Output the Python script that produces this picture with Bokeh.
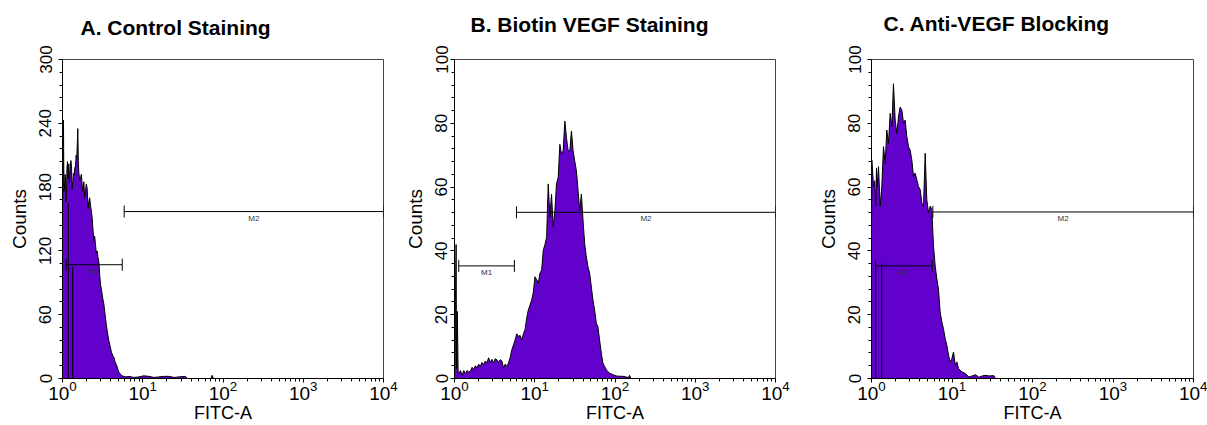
import math
from bokeh.plotting import figure
from bokeh.layouts import row
from bokeh.models import (ColumnDataSource, FixedTicker, SingleIntervalTicker,
                          LogTickFormatter, Title)
from bokeh.embed import file_html
from bokeh.resources import INLINE
from bokeh.core.properties import value

# ---------------- data ----------------
titles = ["A. Control Staining", "B. Biotin VEGF Staining", "C. Anti-VEGF Blocking"]
y_max = [300, 100, 100]
y_step = [60, 20, 20]
x_ticks = [1, 10, 100, 1000, 10000]
x_label = "FITC-A"
y_label = "Counts"

# log10(FITC-A) channel positions and counts
a_log = [0.000, 0.008, 0.012, 0.018, 0.025, 0.031, 0.037, 0.044, 0.050, 0.056, 0.062, 0.070,
         0.079, 0.087, 0.095, 0.104, 0.112, 0.120, 0.129, 0.137, 0.145, 0.153, 0.162, 0.170,
         0.178, 0.185, 0.191, 0.197, 0.203, 0.214, 0.224, 0.235, 0.245, 0.255, 0.266, 0.276,
         0.287, 0.297, 0.307, 0.318, 0.328, 0.338, 0.349, 0.360, 0.370, 0.380, 0.390, 0.400,
         0.411, 0.421, 0.432, 0.442, 0.453, 0.463, 0.474, 0.484, 0.494, 0.505, 0.515, 0.526,
         0.536, 0.547, 0.557, 0.567, 0.577, 0.588, 0.598, 0.609, 0.619, 0.630, 0.640, 0.650,
         0.660, 0.671, 0.681, 0.692, 0.702, 0.723, 0.743, 0.790, 0.827, 0.890, 0.951, 1.010,
         1.076, 1.140, 1.200, 1.260, 1.325, 1.390, 1.450, 1.533, 1.553, 1.850, 1.865, 1.880]
a_counts = [165, 185, 243, 176, 179, 192, 190, 166, 172, 198, 204, 188,
            202, 184, 196, 205, 200, 178, 185, 193, 191, 198, 200, 210,
            207, 222, 235, 205, 194, 186, 188, 192, 182, 176, 185, 170,
            176, 183, 179, 160, 166, 170, 163, 157, 151, 140, 129, 134,
            126, 118, 120, 114, 110, 98, 88, 84, 79, 74, 70, 63,
            57, 50, 45, 40, 36, 32, 29, 25, 23, 21, 20, 17,
            15, 13, 11, 8, 6, 4, 2.5, 1.5, 2, 1, 1.5, 2.5,
            2, 1, 1.5, 2, 2, 1, 1.5, 2, 0, 0, 3, 0]

b_log = [0.000, 0.020, 0.025, 0.035, 0.045, 0.054, 0.074, 0.095, 0.116, 0.136, 0.157, 0.178,
         0.198, 0.219, 0.239, 0.260, 0.281, 0.301, 0.322, 0.342, 0.363, 0.384, 0.404, 0.425,
         0.446, 0.466, 0.487, 0.508, 0.528, 0.549, 0.570, 0.590, 0.611, 0.632, 0.652, 0.673,
         0.693, 0.714, 0.735, 0.755, 0.776, 0.797, 0.817, 0.838, 0.859, 0.879, 0.900, 0.920,
         0.941, 0.962, 0.982, 1.003, 1.024, 1.044, 1.065, 1.086, 1.106, 1.127, 1.148, 1.168,
         1.189, 1.209, 1.230, 1.251, 1.271, 1.292, 1.313, 1.333, 1.354, 1.375, 1.395, 1.416,
         1.437, 1.457, 1.478, 1.498, 1.519, 1.540, 1.560, 1.581, 1.602, 1.622, 1.643, 1.663,
         1.684, 1.705, 1.725, 1.746, 1.767, 1.787, 1.808, 1.829, 1.849, 1.870, 1.891, 1.911,
         1.932, 1.973, 2.014, 2.056, 2.097, 2.170, 2.180, 2.200]
b_counts = [1, 42, 3, 21, 2, 1.5, 2.5, 1, 2.5, 1.5, 2.5, 2,
            2.3, 3.5, 2.8, 4, 3.3, 4.5, 3.8, 5, 4.4, 5.5, 4.9, 6.5,
            5, 6, 4.9, 6.2, 5.9, 5, 5.9, 5.5, 3.3, 4.5, 3.8, 4.9,
            6.5, 9, 10.5, 12.1, 14, 13.2, 13.5, 12.1, 14, 15.3, 19, 21.5,
            23, 24.6, 27, 31.9, 31, 29.8, 33, 34, 40.2, 42, 44.3, 61,
            50.6, 57.8, 47.5, 52.6, 61, 63, 73.4, 70.3, 71.4, 80.7, 75.5, 71.4,
            71.4, 77.6, 71.4, 68.2, 65.1, 58.9, 52.6, 57.8, 49.5, 42.3, 38.1, 35,
            33, 28.8, 24.6, 21.5, 17.3, 16.3, 12.1, 8, 4.9, 3.8, 2.8, 2.2,
            1.7, 1.2, 0.8, 0.7, 0.7, 0.3, 1, 0]

c_log = [0.000, 0.004, 0.025, 0.040, 0.054, 0.062, 0.070, 0.087, 0.108, 0.128, 0.149, 0.170,
         0.190, 0.211, 0.232, 0.253, 0.273, 0.294, 0.315, 0.335, 0.356, 0.377, 0.398, 0.418,
         0.439, 0.460, 0.480, 0.501, 0.522, 0.542, 0.563, 0.584, 0.605, 0.625, 0.646, 0.667,
         0.687, 0.708, 0.729, 0.749, 0.770, 0.791, 0.812, 0.832, 0.853, 0.874, 0.894, 0.915,
         0.936, 0.957, 0.977, 0.998, 1.019, 1.040, 1.060, 1.081, 1.122, 1.164, 1.209, 1.250,
         1.292, 1.333, 1.375, 1.416, 1.457, 1.520, 1.540]
c_counts = [45, 68.5, 60.2, 62, 54, 66, 60, 66.4, 54, 60.2, 72.7, 67.5,
            77.9, 73.7, 83.1, 79, 92.4, 81, 76.8, 82, 85.1, 84.1, 80, 81,
            75.8, 72.7, 71.6, 68.5, 63.3, 64.4, 62.3, 60.2, 59.2, 55, 54, 70.6,
            56.1, 51.9, 54, 53, 41.5, 35.3, 31.2, 28, 20.8, 17.7, 15.6, 12.5,
            10.4, 7.3, 5.2, 6.2, 8.3, 4.2, 5.2, 3.1, 2.1, 1.6, 0.5, 0.8,
            1.2, 0.4, 0.8, 1, 0.8, 0.9, 0]

# markers M1 / M2: start, end (FITC-A units) and height (counts)
m1_start = [1.11, 1.13, 1.12]
m1_end = [5.55, 5.58, 5.68]
m1_level = [107, 35.3, 35.3]
m2_start = [5.87, 5.92, 5.78]
m2_end = [10000, 10000, 10000]
m2_level = [157, 52.1, 52.2]

# dark vertical channel lines inside the histograms
gate_x = [[1.18, 1.34], [], [1.13, 1.34]]
gate_h = [[165, 105], [], [36, 36]]

logs = [a_log, b_log, c_log]
counts = [a_counts, b_counts, c_counts]

# ---------------- styling ----------------
FONT = "Liberation Sans"
FILL = "#6200cc"
H = 425
widths = [398, 411, 398]
border_left = [62, 56, 62]
border_right = [15, 34, 14]
border_top = [55, 58, 59]
border_bottom = 46
title_offset = [18, 16, 12]
ytick_standoff = [7, 3, 7]


def panel(i):
    p = figure(width=widths[i], height=H, x_axis_type="log", x_range=(1, 1e4),
               y_range=(0, y_max[i]), output_backend="svg", toolbar_location=None,
               title=None,
               min_border_left=border_left[i], min_border_right=border_right[i],
               min_border_top=border_top[i], min_border_bottom=border_bottom)
    xs = [10 ** v for v in logs[i]]
    src = ColumnDataSource(dict(x=xs, y=counts[i]))
    p.varea(x="x", y1=0, y2="y", source=src, fill_color=FILL)
    p.line("x", "y", source=src, line_color="black", line_width=1)

    if gate_x[i]:
        p.segment(x0=gate_x[i], y0=[0] * len(gate_x[i]), x1=gate_x[i], y1=gate_h[i],
                  line_color="black", line_width=1)

    for (s, e, lv, name) in [(m1_start[i], m1_end[i], m1_level[i], "M1"),
                             (m2_start[i], m2_end[i], m2_level[i], "M2")]:
        p.segment(x0=[s], y0=[lv], x1=[e], y1=[lv], line_color="black", line_width=1)
        p.scatter(x=[s, e], y=[lv, lv], marker="dash", size=12, angle=math.pi / 2,
                  line_color="black", line_width=1)
        p.text(x=[math.sqrt(s * e)], y=[lv], text=[name], text_font=value(FONT),
               text_font_size="8px", text_align="center", text_baseline="top",
               y_offset=2, text_color="#333333")

    # spacer between frame and title, then the title itself
    p.add_layout(Title(text=" ", text_font_size="1px",
                       standoff=20 + border_top[i] - 57), "above")
    p.add_layout(Title(text=titles[i], text_font=FONT, text_font_size="21px",
                       text_font_style="bold", text_color="black", align="left",
                       offset=title_offset[i], standoff=0), "above")

    p.xaxis.ticker = FixedTicker(ticks=x_ticks,
                                 minor_ticks=[m * 10 ** d for d in range(4) for m in range(2, 10)])
    p.xaxis.formatter = LogTickFormatter()
    p.xaxis.axis_label = x_label
    p.xaxis.axis_label_text_font_size = "18px"
    p.xaxis.major_label_text_font_size = "19px"
    p.xaxis.major_label_standoff = -2
    p.xaxis.axis_label_standoff = 0
    p.yaxis.ticker = SingleIntervalTicker(interval=y_step[i], num_minor_ticks=5)
    p.yaxis.major_label_orientation = "vertical"
    p.yaxis.axis_label = y_label
    p.yaxis.axis_label_text_font_size = "19px"
    p.yaxis.major_label_text_font_size = "17px"
    p.yaxis.major_label_standoff = ytick_standoff[i]
    p.yaxis.axis_label_standoff = 7
    for ax in p.axis:
        ax.axis_label_text_font = FONT
        ax.axis_label_text_font_style = "normal"
        ax.axis_label_text_color = "black"
        ax.major_label_text_font = FONT
        ax.major_label_text_color = "black"
        ax.axis_line_color = "black"
        ax.major_tick_line_color = "black"
        ax.minor_tick_line_color = "black"
        ax.major_tick_in = 0
        ax.major_tick_out = 4
        ax.minor_tick_in = 0
        ax.minor_tick_out = 3

    p.xgrid.visible = False
    p.ygrid.visible = False
    p.outline_line_color = "#444444"
    p.outline_line_alpha = 1
    p.background_fill_color = "white"
    p.border_fill_color = "white"
    return p


layout = row(*[panel(i) for i in range(3)], spacing=0)
open("out.html", "w").write(file_html(layout, INLINE))
